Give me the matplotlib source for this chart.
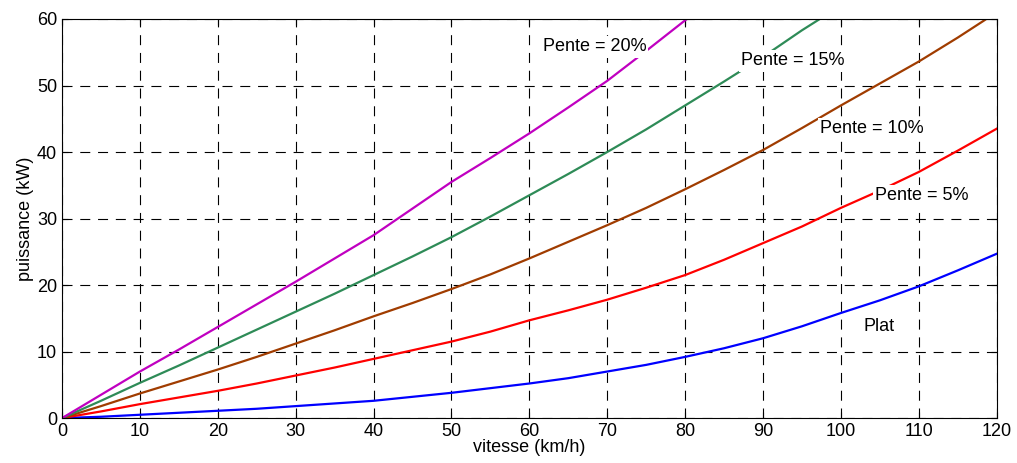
import numpy as np
import matplotlib.pyplot as plt

plt.rcParams['font.family'] = ['Liberation Sans', 'DejaVu Sans']

# vitesse (km/h)
vitesse = [0, 5, 10, 15, 20, 25, 30, 35, 40, 45, 50, 55, 60,
           65, 70, 75, 80, 85, 90, 95, 100, 105, 110, 115, 120]

# puissance (kW)
plat = [0, 0.2, 0.5, 0.8, 1.1, 1.4, 1.8, 2.2, 2.6, 3.2, 3.8, 4.5, 5.2,
        6.0, 7.0, 8.0, 9.2, 10.5, 12.0, 13.8, 15.8, 17.7, 19.8, 22.2, 24.7]
pente5 = [0, 1.0, 2.1, 3.1, 4.1, 5.2, 6.4, 7.6, 8.9, 10.2, 11.5, 13.0, 14.7,
          16.2, 17.8, 19.6, 21.5, 23.8, 26.3, 28.8, 31.6, 34.2, 37.0, 40.2, 43.5]
pente10 = [0, 1.8, 3.7, 5.5, 7.3, 9.2, 11.2, 13.2, 15.3, 17.3, 19.4, 21.6, 24.0,
           26.5, 29.0, 31.6, 34.4, 37.3, 40.3, 43.6, 47.0, 50.3, 53.6, 57.2, 61.0]
pente15 = [0, 2.6, 5.3, 7.9, 10.6, 13.3, 16.0, 18.7, 21.5, 24.3, 27.2, 30.3, 33.5,
           36.7, 40.0, 43.4, 47.0, 50.6, 54.3, 58.3, 62.0]
pente20 = [0, 3.5, 7.0, 10.3, 13.7, 17.1, 20.5, 24.0, 27.5, 31.5, 35.5, 39.1, 42.8,
           46.7, 50.7, 55.2, 59.8, 64.0]

labels = ['Plat', 'Pente = 5%', 'Pente = 10%', 'Pente = 15%', 'Pente = 20%']
label_pos = [(102.9, 13.8), (104.4, 33.4), (97.3, 43.5), (87.2, 53.7), (61.7, 55.8)]

fig = plt.figure(figsize=(10.17, 4.63), dpi=100)
ax = fig.add_axes([0.061, 0.097, 0.919, 0.862])

series = [plat, pente5, pente10, pente15, pente20]
colors = ['#0000ff', '#ff0000', '#a03c00', '#2e8b57', '#c000c0']
for y, c in zip(series, colors):
    ax.plot(vitesse[:len(y)], y, color=c, lw=1.6, zorder=2)

for lab, (x, y) in zip(labels, label_pos):
    ax.text(x, y, lab, fontsize=13, ha='left', va='center', zorder=3,
            bbox=dict(facecolor='white', edgecolor='none', pad=1.5))

ax.set_xlim(0, 120)
ax.set_ylim(0, 60)
ax.set_xticks(np.arange(0, 121, 10))
ax.set_yticks(np.arange(0, 61, 10))
ax.grid(True, color='black', linestyle=(0, (9, 7)), lw=0.8)
ax.tick_params(direction='in', top=True, right=True, labelsize=13, length=4)
ax.set_xlabel('vitesse (km/h)', fontsize=13, labelpad=-1)
ax.set_ylabel('puissance (kW)', fontsize=13, labelpad=2)

fig.savefig('out.png', dpi=100)
